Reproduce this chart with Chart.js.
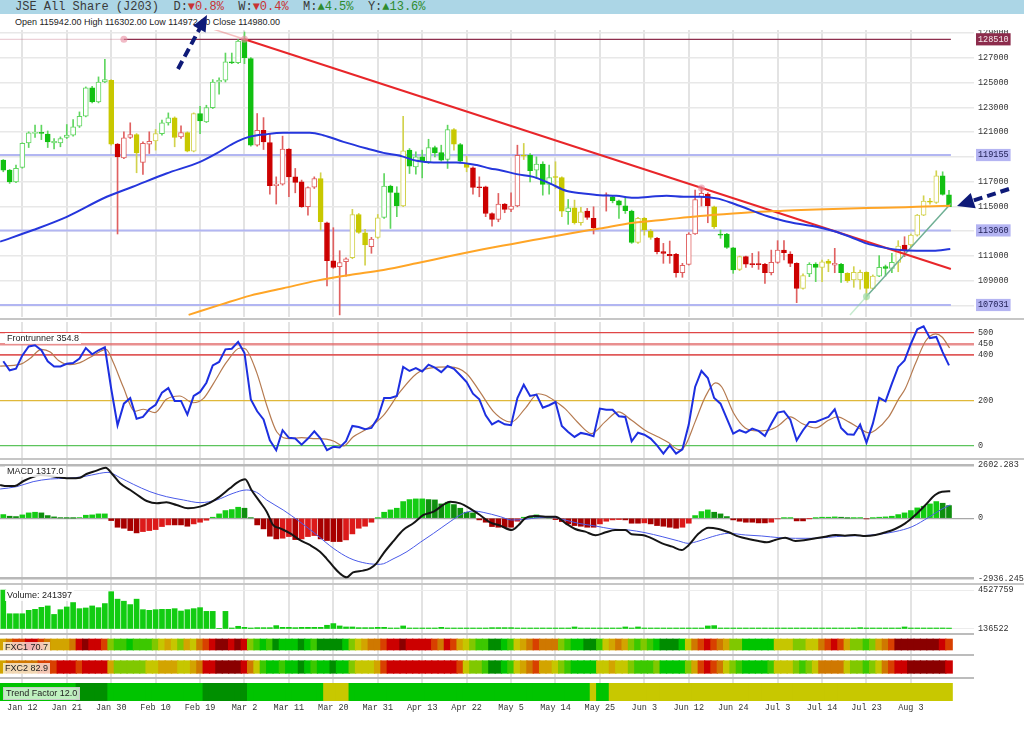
<!DOCTYPE html>
<html>
<head>
<meta charset="utf-8">
<title>JSE All Share (J203)</title>
<script src="https://cdn.jsdelivr.net/npm/chart.js@4.4.0/dist/chart.umd.min.js"></script>
<style>
  body { margin: 0; width: 1024px; height: 735px; overflow: hidden; position: relative; background: #fff;
         font-family: "Liberation Sans", Arial, sans-serif; }
  .pane { position: absolute; left: 0; width: 1024px; }
  .sep { position: absolute; left: 0; width: 1024px; height: 2px; background: #c6c6c6; }
  .tag { position: absolute; left: 5px; font-size: 9px; line-height: 11px; color: #222; padding: 0 2px;
         background: rgba(255,255,255,0.85); white-space: nowrap; }
  #hdr { position: absolute; left: 0; top: 0; width: 1024px; height: 14px; background: #acd6e6; }
  #title { position: absolute; left: 15px; top: 0; font: 12px/14px "Liberation Mono", "DejaVu Sans Mono", monospace;
           color: #3a3a3a; white-space: pre; }
  #title .dn { color: #c83232; } #title .up { color: #2e8b2e; }
  #ohlc { position: absolute; left: 15px; top: 17px; font-size: 9px; line-height: 11px; color: #222; white-space: pre; }
</style>
</head>
<body>
<div id="hdr"></div>
<div id="title">JSE All Share (J203)  D:<span class="dn">▼0.8%</span>  W:<span class="dn">▼0.4%</span>  M:<span class="up">▲4.5%</span>  Y:<span class="up">▲13.6%</span></div>
<div id="ohlc">Open 115942.00 High 116302.00 Low 114972.00 Close 114980.00</div>

<div class="pane" style="top:30px;height:287px"><canvas id="price"></canvas></div>
<div class="sep" style="top:318px"></div>
<div class="pane" style="top:322px;height:136px"><canvas id="front"></canvas></div>
<div class="sep" style="top:458px"></div>
<div class="pane" style="top:460px;height:124px"><canvas id="macd"></canvas></div>
<div class="sep" style="top:583px"></div>
<div class="pane" style="top:585px;height:49px"><canvas id="volume"></canvas></div>
<div class="pane" style="top:632px;height:85px"><canvas id="strips"></canvas></div>

<div class="tag" style="top:333px">Frontrunner 354.8</div>
<div class="tag" style="top:466px">MACD 1317.0</div>
<div class="tag" style="top:590px">Volume: 241397</div>
<div class="tag" style="top:642px;left:3px;background:rgba(255,255,255,0.7)">FXC1 70.7</div>
<div class="tag" style="top:663px;left:3px;background:rgba(255,255,255,0.7)">FXC2 82.9</div>
<div class="tag" style="top:687px;left:3px;border:1px solid #c8c8c8;background:rgba(255,255,255,0.75)">Trend Factor 12.0</div>

<svg width="1024" height="735" style="position:absolute;left:0;top:0;pointer-events:none">
  <g stroke="#0e1a78" stroke-width="4" stroke-dasharray="9 5" fill="none">
    <line x1="178" y1="69" x2="200" y2="28"/>
    <line x1="1009" y1="189" x2="972" y2="201"/>
  </g>
  <g fill="#0e1a78">
    <polygon points="207,15 205.6,32.4 193.2,25.8"/>
    <polygon points="957,206 975.7,208.3 970.7,193.1"/>
  </g>
</svg>

<script>
// trading days shown on the chart
const dates = ["Jan 7","Jan 8","Jan 9","Jan 12","Jan 13","Jan 14","Jan 15","Jan 16","Jan 19","Jan 20",
  "Jan 21","Jan 22","Jan 23","Jan 26","Jan 27","Jan 28","Jan 29","Jan 30","Feb 2","Feb 3",
  "Feb 4","Feb 5","Feb 6","Feb 9","Feb 10","Feb 11","Feb 12","Feb 13","Feb 16","Feb 17",
  "Feb 18","Feb 19","Feb 20","Feb 23","Feb 24","Feb 25","Feb 26","Feb 27","Mar 2","Mar 3",
  "Mar 4","Mar 5","Mar 6","Mar 9","Mar 10","Mar 11","Mar 12","Mar 13","Mar 16","Mar 17",
  "Mar 18","Mar 19","Mar 20","Mar 23","Mar 24","Mar 25","Mar 26","Mar 27","Mar 30","Mar 31",
  "Apr 1","Apr 2","Apr 7","Apr 8","Apr 9","Apr 10","Apr 13","Apr 14","Apr 15","Apr 16",
  "Apr 17","Apr 20","Apr 21","Apr 22","Apr 23","Apr 24","Apr 28","Apr 29","Apr 30","May 4",
  "May 5","May 6","May 7","May 8","May 11","May 12","May 13","May 14","May 15","May 18",
  "May 19","May 20","May 21","May 22","May 25","May 26","May 27","May 28","May 29","Jun 1",
  "Jun 2","Jun 3","Jun 4","Jun 5","Jun 8","Jun 9","Jun 10","Jun 11","Jun 12","Jun 15",
  "Jun 17","Jun 18","Jun 19","Jun 22","Jun 23","Jun 24","Jun 25","Jun 26","Jun 29","Jun 30",
  "Jul 1","Jul 2","Jul 3","Jul 6","Jul 7","Jul 8","Jul 9","Jul 10","Jul 13","Jul 14",
  "Jul 15","Jul 16","Jul 17","Jul 20","Jul 21","Jul 22","Jul 23","Jul 24","Jul 27","Jul 28",
  "Jul 29","Jul 30","Jul 31","Aug 3","Aug 4","Aug 5","Aug 6","Aug 7","Aug 11","Aug 12"];

// daily candles (May 25 has no candle)
const opens = [118740,117930,116990,118150,120140,120900,120920,120840,120140,120140,
  120570,120760,121490,122290,124580,123450,125060,125200,120030,118930,
  120570,120810,118550,120030,120300,120890,121760,122160,120620,120970,
  119470,122510,121840,122990,125060,125200,126690,126620,128430,126950,
  119950,121160,120170,116670,116800,119630,117390,116990,114970,116560,
  117260,113680,110610,110130,110530,110850,114350,112870,111740,112500,
  114110,116640,116100,115030,119550,118200,119010,118550,119760,119360,
  118790,121220,120000,118470,118120,116590,116590,114430,113950,115190,
  114760,115030,119140,119140,117930,118420,116780,117390,117340,114570,
  114890,113680,114620,114030,null,115910,115780,115460,115050,114620,
  112090,114030,113010,112420,111340,111120,111120,109640,110320,112770,
  115780,116000,114970,112770,112770,111660,109910,110940,110320,110320,
  110320,109640,110480,111470,111150,110400,108380,109540,110340,110070,
  110590,110260,110320,109590,109050,109050,109670,108380,109370,110130,
  109990,110480,111880,111880,112680,114300,115430,115320,117480,115942];
const highs = [118790,117990,118340,120140,121030,121570,121570,121100,120490,120620,
  121620,122020,122640,124660,124710,125470,126890,125250,120090,121030,
  121760,120890,120220,121030,121220,121970,122560,122240,121510,121030,
  122560,123100,123180,125250,125390,127400,127400,128480,129100,127030,
  122510,122180,120890,117390,120680,119680,118070,117130,116590,117390,
  117720,113730,113280,111420,110850,114760,114430,113140,112500,114350,
  117660,116720,116590,122290,119680,119410,119550,120430,119870,119950,
  121570,121300,120090,119060,118200,117390,116640,114490,116050,115240,
  116100,119950,120090,119280,119010,118610,118340,118610,117390,115560,
  115510,114920,114840,114970,null,116100,115830,115510,115730,114700,
  114110,114110,113140,112500,112010,112200,111210,110400,112870,116320,
  116590,116100,115030,113090,112820,111690,110990,110990,111210,111340,
  110400,111470,112230,112230,111340,110450,109540,110450,110450,110670,
  110720,111610,110400,109640,110130,109860,109720,109460,111020,110260,
  111210,112230,112550,112770,114350,115860,115650,117880,117800,116302];
const lows = [117800,116860,116910,118090,119760,120570,120400,119760,119650,119820,
  120490,120680,121380,122240,123370,123370,125010,119950,112770,118870,
  120490,117720,117580,119280,119550,120760,121570,119820,120490,119410,
  119410,120890,121780,122910,124070,125060,126540,126540,126540,119870,
  119870,119600,116000,115190,116720,115780,116100,114920,114300,116450,
  113090,108570,109990,106230,109370,110770,112820,110260,111210,112420,
  114030,113220,114170,114970,117660,117610,117310,118470,119010,118660,
  118070,119550,118520,117800,116000,115780,114170,113410,113760,114490,
  114570,114970,118790,116990,117260,115910,116000,116450,114170,113550,
  113570,113490,113950,112770,null,114620,115290,114030,114430,112010,
  112010,112680,112340,111150,110400,110400,109270,109270,110260,112740,
  115030,113680,113220,112420,111610,109590,109810,110070,110070,109910,
  108780,109460,110400,110670,110130,107220,108300,109320,108920,108920,
  109720,109640,108860,108860,108460,108300,107440,108300,109320,109370,
  109640,109720,110940,111740,112600,114250,115190,115240,115910,114972];
const closes = [117930,116990,118070,120090,120950,120950,120900,120220,120270,120490,
  120760,121430,122290,124580,123450,125060,125250,120030,119010,120540,
  120810,119330,120090,120270,120890,121760,122160,120570,120970,119470,
  122510,121920,122990,125060,125200,126680,126600,128370,127030,119950,
  121160,120220,116670,116800,119630,117390,116940,114970,116530,117260,
  113760,110610,110070,110450,110770,114350,112900,111880,112360,114080,
  116640,116130,115030,119490,118260,119010,118610,119760,119330,118740,
  121220,120030,118660,118150,116530,116510,114430,113950,115190,114760,
  115030,119140,119060,117880,118420,116780,117340,117340,114620,114890,
  113680,114570,114110,113280,null,115860,115460,115110,114650,112090,
  114030,113090,112500,111340,111210,111020,109640,110240,112770,115560,
  116050,115030,113360,112680,111690,109860,110940,110340,110300,110290,
  109640,110480,111470,111260,110400,108380,109400,110320,110070,110530,
  110400,110400,109640,109000,109670,109670,108380,109370,110070,109990,
  110480,111800,111470,112680,114300,115430,115350,117480,115970,114980];
// candle trend colour: g = green, y = yellow, r = red
const tones = ("gggggggggggggggggyrr" + "ryrryggyryygggggggggy".slice(0, 20) +
  "rrrrrrrrrryrrrryyyry" + "gggygggggggygyrrrrrr" + "rryggggyygyyrrrrgggg" +
  "yyyrrrrrrrrrygggyrrr" + "rrrrrryggyyrgyyyyygg" + "gyryyyyygggggggggggg").split("");

// moving averages: [day index, level]
const ma50 = [[-0.5,112150],[4.7,113090],[10,114160],[16.3,115780],[20.4,116590],[25.7,117660],
  [31,118600],[33.6,119280],[36.2,120080],[38.6,120600],[41.5,120840],[44.1,120950],[48.3,120950],
  [50.4,120760],[53.6,120220],[57.3,119680],[59.9,119330],[62.5,119090],[65.1,118690],[67.8,118550],
  [71.4,118550],[74.6,118340],[76.7,118070],[78.3,117930],[80.9,117610],[83.5,117390],[86.1,116860],
  [88.8,116240],[91.4,116050],[94,115910],[96.6,115860],[99.3,115700],[101.9,115780],[104.5,115860],
  [107.2,115780],[109.8,115780],[112.4,115650],[115,115240],[117.6,114740],[120.3,114220],
  [122.9,113840],[125.5,113570],[128.1,113360],[130.8,113010],[133.4,112550],[136,112010],
  [138.6,111690],[141.3,111470],[143.9,111420],[146.5,111420],[149.2,111550]];
const ma200 = [[29.2,106230],[34.5,107100],[38.9,107790],[44.1,108380],[49.4,109000],[54.6,109460],
  [59.9,109860],[65.1,110400],[70.4,110990],[75.6,111530],[80,111950],[83.5,112280],[88.8,112770],
  [94,113220],[99.3,113680],[104.5,113950],[109.8,114220],[115,114430],[119.2,114570],
  [122.9,114650],[128.1,114760],[133.4,114840],[138.6,114890],[143.9,114970],[149.2,115050]];
const downTrend = [[38,128510],[149.3,109940]];
const downTrendExt = [[33,129345],[38,128510]];
const upTrend = [[136,107710],[149.3,115240]];
const upTrendExt = [[133.4,106230],[136,107710]];
const topLevel = 128510;
const levels = [119155, 113060, 107031];
const touches = [[19,128510],[38,128510],[110,116490]];
const upTouch = [[136,107710]];

// Frontrunner oscillator
const front = [373,333,340,399,439,444,422,373,350,350, 362,365,385,432,404,422,435,251,89,185,
  210,118,126,160,180,234,254,197,197,136, 219,237,278,355,370,426,429,459,410,204,
  151,115,22,-22,67,33,30,3,30,62, 30,-22,-7,-10,18,86,81,71,77,121,
  210,210,219,348,330,343,328,358,345,325, 352,340,311,281,229,204,133,93,108,93,
  89,210,269,219,225,167,178,192,86,59, 37,55,49,40,163,158,158,129,126,18,
  56,47,30,0,-37,0,-37,-18,92,259, 330,299,210,185,118,52,67,56,74,64,
  41,96,145,151,114,22,67,104,104,115, 126,160,77,49,47,92,12,96,211,195,
  274,348,377,451,515,528,476,481,414,355];
const frontSignal = [[-0.5,352],[2.6,359],[4.2,385],[6,426],[7.4,414],[8.7,377],[10.5,358],[12.1,367],
  [14.2,399],[16.2,426],[17.3,370],[18.9,259],[20.7,151],[22.1,160],[23.9,145],[25.7,204],[27.8,219],
  [29.9,189],[31.5,207],[33.1,274],[35.2,370],[37.3,432],[38.1,429],[39.9,325],[41.5,178],[43.1,59],
  [45.2,30],[47,34],[48.8,30],[50.9,27],[52,19],[53.6,-3],[55.1,37],[57.2,71],[59.9,133],[62.5,237],
  [65.1,318],[67.2,343],[70.4,348],[73,318],[75.1,237],[77.2,151],[79.3,107],[80.1,104],[82.2,163],
  [84.3,229],[85.4,222],[86.9,197],[88.5,163],[90.6,99],[92.7,52],[94.8,104],[96.9,148],[99,111],
  [101.1,67],[103.2,37],[104.8,12],[106.4,-19],[107.4,-3],[109,104],[110.6,215],[112.2,277],
  [113.2,259],[115.1,141],[116.9,77],[118.9,64],[120.6,67],[122.2,89],[124,126],[125.9,96],[128,77],
  [130,111],[131.4,126],[133.2,104],[134.8,77],[136.4,55],[137.4,67],[139.5,126],[141.1,207],
  [142.1,251],[143.7,362],[145.3,462],[146.9,495],[147.9,481],[149.1,432]];
const frontLevels = [0, 200, 400, 450, 500];

// MACD
const macdLine = [[-0.5,1625],[0.5,1576],[1.8,1576],[3.2,1820],[4.5,2000],[5.8,2114],[7.4,2065],
  [8.9,2000],[10.5,1951],[12.1,1983],[13.1,2163],[14.7,2325],[16.1,2472],[17.3,2114],[18.4,1706],
  [20,1381],[21.5,1055],[22.6,843],[24.2,729],[25.7,778],[27.3,648],[29.1,485],[31,566],[32.6,762],
  [34.1,1055],[35.7,1462],[36.9,1755],[38.1,1902],[39.1,1381],[40.4,810],[41.5,322],[42.5,-330],
  [43.6,-493],[45.2,-737],[46.7,-1063],[48.3,-1307],[49.9,-1633],[50.9,-1959],[52,-2366],[53,-2692],
  [54.1,-2888],[55.1,-2643],[56.7,-2562],[57.8,-2448],[58.8,-2203],[59.9,-1715],[61.4,-1144],
  [63,-574],[64.6,-248],[66.2,159],[67.8,322],[69.3,648],[70.4,810],[72,729],[73.5,485],[75.1,159],
  [76.7,-200],[78.3,-362],[80.1,-574],[81.2,-330],[82.2,-4],[83.8,110],[85.4,77],[87,77],[88.6,-248],
  [90.1,-525],[91.7,-656],[93.3,-835],[94.9,-688],[96.4,-574],[98,-574],[99,-786],[100.6,-818],
  [102.2,-981],[103.8,-1226],[105.4,-1389],[106.9,-1552],[107.9,-1340],[109.6,-737],[111.1,-460],
  [112.7,-525],[114.3,-688],[115.9,-900],[117.4,-1014],[119,-1112],[120.3,-1177],[121.6,-1063],
  [123.2,-949],[124.8,-1112],[126.4,-1063],[128,-981],[129.5,-900],[131.1,-818],[132.6,-851],
  [134.2,-818],[135.8,-868],[137.4,-818],[139,-688],[140.5,-525],[142.1,-248],[143.7,159],
  [145.3,648],[146.8,1136],[147.9,1299],[149.2,1317]];
const macdSignal = [[-0.5,1429],[2.1,1543],[4.7,1788],[7.4,1918],[10,1951],[12.6,2032],[15.2,2195],
  [16.5,2244],[18.4,1983],[20.5,1657],[23.1,1299],[25.7,1055],[28.4,892],[31,762],[33.6,892],
  [36.2,1218],[38.3,1381],[39.9,1267],[41.5,892],[44.1,403],[46.7,-167],[49.4,-819],[52,-1470],
  [54.6,-1959],[57.2,-2203],[59.4,-2252],[61.4,-1992],[63.6,-1633],[65.7,-1177],[67.8,-737],
  [70.4,-167],[72.5,240],[74.1,354],[75.6,289],[78.3,77],[80.1,-86],[82.2,-53],[84.3,28],[86.4,45],
  [88.5,-86],[90.6,-248],[93.3,-379],[95.9,-525],[98.5,-574],[101.1,-704],[103.8,-900],[106.4,-1112],
  [107.9,-1226],[109.6,-1112],[111.7,-900],[114.3,-737],[116.9,-818],[119.5,-868],[122.2,-949],
  [124.8,-981],[127.4,-981],[130,-933],[132.6,-868],[135.3,-851],[137.9,-786],[140.5,-656],
  [143.2,-411],[145.8,45],[147.9,452],[149.2,648]];
const macdHist = [179,98,81,163,261,293,261,130,65,16, 8,5,33,147,163,212,212,-114,-440,-489,
  -603,-717,-652,-603,-554,-407,-326,-326,-326,-391, -277,-195,-98,49,212,375,424,538,489,16,
  -326,-521,-880,-1010,-977,-896,-1043,-1010,-896,-847, -1010,-1091,-1140,-1140,-1059,-766,-489,-391,-195,8,
  293,407,489,815,912,945,945,912,896,700, 782,668,489,293,261,-81,-195,-407,-440,-440,
  -440,-147,49,81,163,65,16,-65,-163,-277, -358,-391,-440,-440,-277,-147,-81,-65,-81,-244,
  -244,-228,-277,-358,-391,-440,-489,-440,-244,130, 326,407,293,212,81,-81,-147,-195,-195,-228,
  -228,-195,-33,8,8,-130,-130,-16,8,49, 49,65,49,8,8,16,-33,8,49,65,
  98,179,261,375,505,586,700,815,733,619];
const macdTicks = [-2936.245, 0, 2602.283];

// volume
const volume = [4520000,1855000,1855000,1855000,2237000,2351000,2580000,2733000,1778000,2313000,
  2618000,3115000,2428000,2504000,2733000,2542000,3000000,4337000,3497000,3268000,
  2886000,3497000,2313000,2237000,2313000,2351000,2351000,2428000,2160000,2313000,
  2428000,2542000,2122000,2122000,213000,2122000,251000,442000,327000,251000,
  289000,289000,289000,518000,327000,327000,289000,327000,327000,327000,
  327000,557000,747000,480000,366000,366000,289000,289000,289000,327000,
  327000,251000,251000,480000,251000,251000,251000,251000,251000,327000,
  251000,251000,251000,251000,251000,251000,251000,289000,289000,289000,
  289000,251000,251000,251000,251000,251000,251000,251000,251000,251000,
  366000,251000,251000,251000,251000,251000,251000,251000,366000,251000,
  366000,251000,251000,251000,251000,251000,251000,251000,251000,251000,
  251000,480000,518000,251000,251000,251000,251000,251000,251000,251000,
  251000,251000,251000,251000,251000,251000,251000,251000,251000,251000,
  251000,251000,251000,251000,251000,289000,251000,251000,251000,251000,
  251000,251000,366000,251000,251000,251000,251000,251000,251000,241397];
const volumeTicks = [136522, 4527759];

// heat strips, level 0 (cool, dark green) .. 9 (hot, dark red)
const fxc1 = [5,6,7,7,8,8,7,6,5,5, 5,6,8,9,8,8,7,3,2,2, 1,2,2,2,3,4,5,4,3,5, 4,6,7,8,9,9,8,9,8,3,
  2,1,2,0,1,1,1,0,1,2, 0,0,0,0,1,3,4,5,6,6, 7,8,8,9,8,8,8,8,7,6, 8,7,5,4,3,2,2,0,0,1,
  2,4,5,6,7,6,6,6,3,2, 1,1,0,0,2,4,5,6,5,3, 2,3,2,1,0,0,0,1,4,6, 7,8,7,6,5,3,3,1,1,1,
  1,1,4,4,4,3,3,4,4,6, 7,8,7,5,3,3,2,3,5,6, 7,9,9,9,9,9,9,9,8,7];
const fxc2 = [5,6,6,6,6,6,7,7,7,8, 8,8,7,8,8,8,8,5,3,3, 3,3,3,4,4,5,5,5,4,4, 5,6,8,8,9,9,9,9,8,6,
  4,2,1,1,2,1,1,0,1,2, 1,1,0,1,1,3,4,4,4,5, 7,8,8,8,8,8,8,8,8,8, 8,8,7,4,3,3,2,0,0,1,
  2,4,5,6,7,5,5,4,3,2, 1,1,1,1,4,4,5,4,4,3, 2,2,2,3,1,1,1,1,3,5, 7,8,7,6,4,3,2,1,1,1,
  1,2,4,4,4,3,2,3,4,6, 6,6,6,4,3,3,2,3,4,6, 7,8,8,9,9,9,9,9,9,8];
// trend factor: 0 strong up, 1 up, 2 neutral
const trend = [1,1,1,1,1,1,1,1,1,1, 1,1,0,0,0,0,0,1,1,1, 1,1,1,1,1,1,1,1,1,1, 1,1,0,0,0,0,0,0,0,1,
  1,1,1,1,1,1,1,1,1,1, 1,2,2,2,2,1,1,1,1,1, 1,1,1,1,1,1,1,1,1,1, 1,1,1,1,1,1,1,1,1,1,
  1,1,1,1,1,1,1,1,1,1, 1,1,1,2,1,1,2,2,2,2, 2,2,2,2,2,2,2,2,2,2, 2,2,2,2,2,2,2,2,2,2,
  2,2,2,2,2,2,2,2,2,2, 2,2,2,2,2,2,2,2,2,2, 2,2,2,2,2,2,2,2,2,2];

/* ---------------- shared settings ---------------- */
const X_MIN = -0.52, X_MAX = 152.94;
const MONO = "'Liberation Mono', 'DejaVu Sans Mono', monospace";
const gridIdx = dates.map((d, i) => i).filter(i => i % 7 === 3);
const days = dates.map((d, i) => i);

const toneFill = { g: "#12c012", y: "#c8c800", r: "#cc0000" };
const toneLine = { g: "#5fd65f", y: "#d2d24c", r: "#e06060" };
const heat = ["#008c00", "#00c400", "#3cc800", "#80c800", "#c6c600",
              "#d2a400", "#cf7800", "#d84000", "#cc0000", "#8a0000"];
const trendColors = ["#008f00", "#00c400", "#c8c800"];

Chart.defaults.font.family = MONO;
Chart.defaults.font.size = 8.5;

function xAxis(withLabels) {
  return {
    type: "linear", min: X_MIN, max: X_MAX, offset: false,
    afterBuildTicks: s => { s.ticks = gridIdx.map(v => ({ value: v })); },
    grid: { color: "#e3e3e3", lineWidth: 2, drawTicks: false, offset: false },
    border: { display: false },
    ticks: { display: withLabels, autoSkip: false, maxRotation: 0, padding: 2, color: "#333",
             font: { family: MONO, size: 8.5 }, callback: v => dates[v] },
    afterFit: s => { s.height = withLabels ? 16 : 0; s.paddingLeft = 0; s.paddingRight = 0; }
  };
}

function yAxis(min, max, tickValues, grid, ticks, extra) {
  return Object.assign({
    position: "right", min: min, max: max,
    afterBuildTicks: s => { s.ticks = tickValues.map(v => ({ value: v })); },
    border: { display: false },
    grid: Object.assign({ drawTicks: false, color: "#e6e6e6", lineWidth: 1 }, grid),
    ticks: Object.assign({ autoSkip: false, padding: 4, color: "#333", font: { family: MONO, size: 8.5 } }, ticks),
    afterFit: s => { s.width = 50; s.paddingTop = 0; s.paddingBottom = 0; }
  }, extra || {});
}

function options(scales) {
  return {
    responsive: true, maintainAspectRatio: false, animation: false, events: [],
    layout: { padding: 0, autoPadding: false },
    plugins: { legend: { display: false }, tooltip: { enabled: false } },
    scales: scales
  };
}

function line(points, color, width, extra) {
  return Object.assign({
    type: "line", data: points.map(p => ({ x: p[0], y: p[1] })),
    borderColor: color, borderWidth: width, pointRadius: 0, fill: false, tension: 0, order: 0
  }, extra || {});
}
const smooth = { cubicInterpolationMode: "monotone" };

/* ---------------- price panel ---------------- */
const shown = days.filter(i => opens[i] !== null);
const isDown = i => closes[i] < opens[i];

const wickData = shown.map(i => ({ x: i, y: [lows[i], highs[i]] }));
const bodyData = shown.map(i => ({ x: i, y: [opens[i], closes[i]] }));
const levelSpan = v => [[X_MIN, v], [149.3, v]];

const specialTicks = [107031, 113060, 119155, 128510];
const hiddenTicks = [107000, 113000, 119000];
const priceTicks = [107000, 107031, 109000, 111000, 113000, 113060, 115000, 117000,
                    119000, 119155, 121000, 123000, 125000, 127000, 129000, 128510];

new Chart(document.getElementById("price"), {
  type: "bar",
  data: {
    datasets: [
      line(touches, "rgba(0,0,0,0)", 0, { showLine: false, pointRadius: 3.5, order: -1,
        pointBackgroundColor: "rgba(232,140,160,0.6)", pointBorderWidth: 0 }),
      line(upTouch, "rgba(0,0,0,0)", 0, { showLine: false, pointRadius: 3.5, order: -1,
        pointBackgroundColor: "rgba(160,220,170,0.75)", pointBorderWidth: 0 }),
      line(ma50, "#2536dc", 2, smooth),
      line(ma200, "#ffa526", 2, smooth),
      line(downTrend, "#e8262a", 2),
      line(downTrendExt, "rgba(232,70,70,0.35)", 1.5),
      line(upTrend, "#6faf94", 1.5),
      line(upTrendExt, "rgba(130,210,150,0.45)", 1.5),
      {
        type: "bar", data: bodyData, grouped: false, barThickness: 5, minBarLength: 1, order: 2,
        borderWidth: 1, borderSkipped: false,
        backgroundColor: shown.map(i => isDown(i) ? toneFill[tones[i]] : "#ffffff"),
        borderColor: shown.map(i => isDown(i) ? toneFill[tones[i]] : toneLine[tones[i]])
      },
      {
        type: "bar", data: wickData, grouped: false, barThickness: 1, order: 3,
        backgroundColor: shown.map(i => toneLine[tones[i]])
      },
      line([[19, topLevel], [149.3, topLevel]], "#8e2f4e", 1.2, { order: 4 }),
      line([[X_MIN, topLevel], [19, topLevel]], "rgba(200,120,140,0.35)", 1.2, { order: 4 }),
      ...levels.map(v => line(levelSpan(v), "#b2b6f2", 2, { order: 4 }))
    ]
  },
  options: options({
    x: xAxis(false),
    y: yAxis(106060, 129262, priceTicks,
      { color: c => specialTicks.includes(c.tick.value) ? "rgba(0,0,0,0)" : "#e8e8e8", lineWidth: 1.5 },
      {
        callback: v => hiddenTicks.includes(v) ? "" : String(v),
        color: c => c.tick.value === topLevel ? "#f5e8ec" : (specialTicks.includes(c.tick.value) ? "#1c1c52" : "#333"),
        showLabelBackdrop: c => specialTicks.includes(c.tick.value),
        backdropColor: c => c.tick.value === topLevel ? "#8c2c4c" : "#b4b4f2",
        backdropPadding: { x: 2, y: 1 }
      })
  })
});

/* ---------------- Frontrunner panel ---------------- */
const frontGrid = { 0: "#5cc45c", 200: "#e0b83a", 400: "#e05a5a", 450: "rgba(224,96,96,0.7)", 500: "#e04646" };
new Chart(document.getElementById("front"), {
  type: "line",
  data: {
    datasets: [
      line(days.map(i => [i, front[i]]), "#1d2fe0", 2),
      line(frontSignal, "#b57a50", 1.2, smooth)
    ]
  },
  options: options({
    x: xAxis(false),
    y: yAxis(-56.4, 547.5, frontLevels,
      { color: c => frontGrid[c.tick.value], lineWidth: c => c.tick.value === 450 ? 2.5 : (c.tick.value === 400 ? 1.8 : 1.2) },
      { callback: v => String(v) })
  })
});

/* ---------------- MACD panel ---------------- */
const histColors = macdHist.map((v, i) => {
  const prev = i > 0 ? macdHist[i - 1] : v;
  if (v >= 0) return v >= prev ? "#14cc14" : "#0f8f0f";
  return v <= prev ? "#a80000" : "#dc1a1a";
});
new Chart(document.getElementById("macd"), {
  type: "bar",
  data: {
    datasets: [
      line(macdLine, "#151515", 2, smooth),
      line(macdSignal, "#4a5ae8", 1, smooth),
      { type: "bar", data: days.map(i => ({ x: i, y: macdHist[i] })), grouped: false,
        barThickness: 5, order: 2, backgroundColor: histColors }
    ]
  },
  options: options({
    x: xAxis(false),
    y: yAxis(-3214.9, 2846.7, macdTicks,
      { color: c => c.tick.value === 0 ? "#a8a8a8" : "#b8b8b8", lineWidth: c => c.tick.value === 0 ? 1.2 : 2.5 },
      { callback: v => v === 0 ? "0" : v.toFixed(3) })
  })
});

/* ---------------- volume panel ---------------- */
new Chart(document.getElementById("volume"), {
  type: "bar",
  data: {
    datasets: [{ data: days.map(i => ({ x: i, y: volume[i] })), base: volumeTicks[0], grouped: false,
                 barThickness: 5, backgroundColor: "#12cc12" }]
  },
  options: options({
    x: xAxis(false),
    y: yAxis(-426460, 5090740, volumeTicks, { color: "#ececec" }, { callback: v => String(v) })
  })
});

/* ---------------- heat strips and date axis ---------------- */
const band = (lo, hi) => days.map(i => ({ x: i, y: [lo, hi] }));
new Chart(document.getElementById("strips"), {
  type: "bar",
  data: {
    datasets: [
      { data: band(7, 18), grouped: false, barThickness: 7, backgroundColor: fxc1.map(v => heat[v]) },
      { data: band(28.7, 41.3), grouped: false, barThickness: 7, backgroundColor: fxc2.map(v => heat[v]) },
      { data: band(51.3, 68.7), grouped: false, barThickness: 7, backgroundColor: trend.map(v => trendColors[v]) }
    ]
  },
  options: options({
    x: xAxis(true),
    y: yAxis(0, 69, [2, 23, 46], { color: "#bcbcbc", lineWidth: 2 }, { display: false }, { reverse: true })
  })
});
</script>
</body>
</html>
